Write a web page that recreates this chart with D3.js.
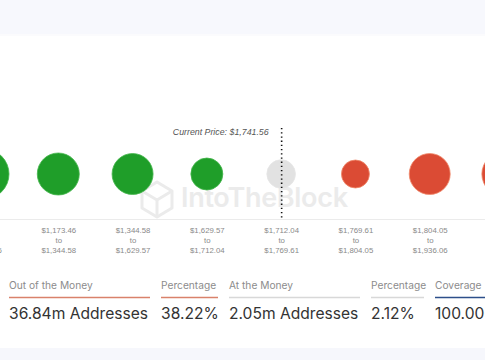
<!DOCTYPE html>
<html><head><meta charset="utf-8">
<script src="https://cdn.jsdelivr.net/npm/d3@7"></script>
<style>
html,body{margin:0;padding:0;background:#fff;overflow:hidden}
svg{display:block}
</style></head>
<body>
<svg id="c" width="485" height="360"></svg>
<script>
// Price bins (lower, upper)
const binLower = ["$980.52","$1,173.46","$1,344.58","$1,629.57","$1,712.04","$1,769.61","$1,804.05","$1,936.06"];
const binUpper = ["$1,173.46","$1,344.58","$1,629.57","$1,712.04","$1,769.61","$1,804.05","$1,936.06","$2,110.35"];
// Addresses (millions) per bin
const addresses = [6.25, 4.41, 4.2, 2.56, 2.05, 1.96, 4.2, 4.9];
// status per bin
const status = ["in","in","in","in","at","out","out","out"];
const currentPrice = "$1,741.56";
const summaryLabels = ["Out of the Money","Percentage","At the Money","Percentage","Coverage"];
const summaryValues = ["36.84m Addresses","38.22%","2.05m Addresses","2.12%","100.00%"];

const colors = {in:"#1f9e29", at:"#e2e2e2", out:"#db4b34"};
const strokes = {in:"#45b64c", at:"#e6e6e6", out:"#f08a6c"};
const underline = ["#d9826b","#d9826b","#d8d8d8","#d8d8d8","#2d4f8a"];

const svg = d3.select("#c");
const W = 485, H = 360;

// backgrounds
svg.append("rect").attr("x",0).attr("y",0).attr("width",W).attr("height",34).attr("fill","#f7f8fd");
svg.append("rect").attr("x",0).attr("y",34).attr("width",W).attr("height",2).attr("fill","#fbfbfd");
svg.append("rect").attr("x",0).attr("y",348).attr("width",W).attr("height",12).attr("fill","#f6f7fc");

const idx = d3.range(addresses.length);
const x = d3.scalePoint().domain(idx).range([-16, 504]);
const r = d3.scaleSqrt().domain([0, 1]).range([0, 10]);
const cy = 174;

// watermark
const wm = svg.append("g");
wm.append("text").attr("x",181).attr("y",207)
  .attr("font-family","Inter, 'Open Sans', sans-serif").attr("font-weight",600)
  .attr("font-size",27).attr("fill","#ebebeb").attr("letter-spacing","-0.3")
  .text("IntoTheBlock");
const cube = wm.append("g").attr("transform","translate(157,199)").attr("fill","none")
  .attr("stroke","#ebebeb").attr("stroke-width",3).attr("stroke-linejoin","round");
cube.append("path").attr("d","M0,-17 L15,-8 L15,9 L0,18 L-15,9 L-15,-8 Z");
cube.append("path").attr("d","M-15,-8 L0,1 L15,-8 M0,1 L0,18");

// axis line
svg.append("line").attr("x1",0).attr("x2",W).attr("y1",219.5).attr("y2",219.5)
  .attr("stroke","#ebebeb").attr("stroke-width",1.2);

// circles
svg.append("g").selectAll("circle").data(idx).join("circle")
  .attr("cx", d => x(d)).attr("cy", cy)
  .attr("r", d => r(addresses[d]))
  .attr("fill", d => colors[status[d]])
  .attr("stroke", d => strokes[status[d]])
  .attr("stroke-width", 0.8);

// axis tick labels
const axis = d3.axisBottom(x).tickSize(0).tickFormat(d => binLower[d]);
const ag = svg.append("g").attr("transform","translate(0,221)").call(axis);
ag.select(".domain").remove();
ag.selectAll(".tick text").each(function(d){
  const t = d3.select(this);
  t.text(null).attr("y",0).attr("dy",0)
   .attr("font-family","'Liberation Sans', Arial, sans-serif").attr("font-size",7.8).attr("fill","#8a8a8a");
  t.append("tspan").attr("x",0).attr("y",12).text(binLower[d]);
  t.append("tspan").attr("x",0).attr("y",22).text("to");
  t.append("tspan").attr("x",0).attr("y",32).text(binUpper[d]);
});

// current price line
const cpX = x(4) + 0.5;
svg.append("line").attr("x1",cpX).attr("x2",cpX).attr("y1",128).attr("y2",220)
  .attr("stroke","#111").attr("stroke-width",1.6).attr("stroke-dasharray","1.3,2.9");
svg.append("text").attr("x",cpX-13).attr("y",135).attr("text-anchor","end")
  .attr("font-family","'Liberation Sans', Arial, sans-serif").attr("font-style","italic")
  .attr("font-size",8.8).attr("fill","#555").text("Current Price: " + currentPrice);

// summary
const sx = [9, 161, 229, 371, 435];
const sw = [141, 57, 131, 53, 60];
const sg = svg.append("g");
summaryLabels.forEach((lab,i) => {
  sg.append("text").attr("x",sx[i]).attr("y",289)
    .attr("font-family","Inter, sans-serif").attr("font-size",10.2).attr("fill","#8c8c8c").text(lab);
  sg.append("line").attr("x1",sx[i]).attr("x2",sx[i]+sw[i]).attr("y1",297.5).attr("y2",297.5)
    .attr("stroke",underline[i]).attr("stroke-width",1.3);
  sg.append("text").attr("x",sx[i]).attr("y",319)
    .attr("font-family","Inter, sans-serif").attr("font-size",15.6).attr("fill","#333").text(summaryValues[i]);
});
</script>
</body></html>
